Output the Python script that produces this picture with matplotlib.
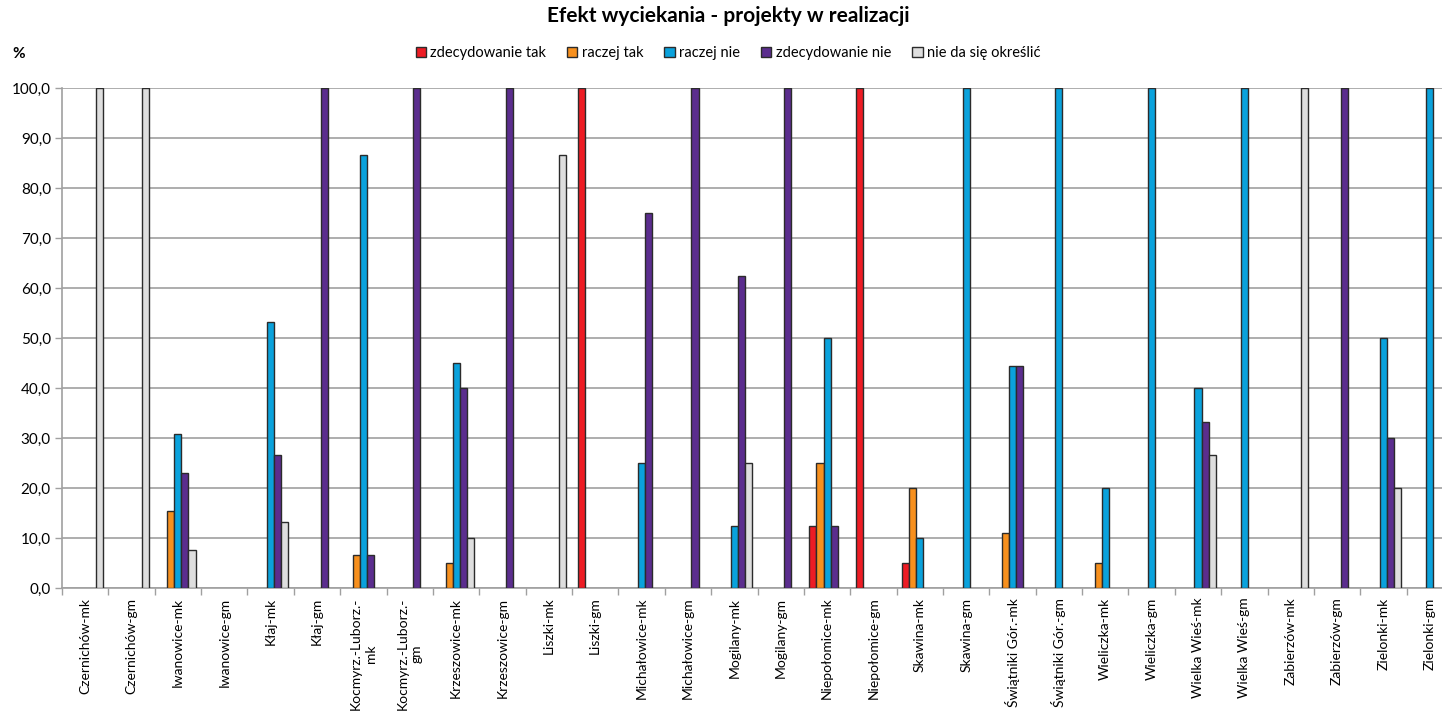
import matplotlib
matplotlib.use("Agg")
import matplotlib.pyplot as plt
import numpy as np
from matplotlib.ticker import FixedLocator, FuncFormatter

categories = [
    "Czernichów-mk", "Czernichów-gm", "Iwanowice-mk", "Iwanowice-gm",
    "Kłaj-mk", "Kłaj-gm", "Kocmyrz.-Luborz.-\nmk", "Kocmyrz.-Luborz.-\ngm",
    "Krzeszowice-mk", "Krzeszowice-gm", "Liszki-mk", "Liszki-gm",
    "Michałowice-mk", "Michałowice-gm", "Mogilany-mk", "Mogilany-gm",
    "Niepołomice-mk", "Niepołomice-gm", "Skawina-mk", "Skawina-gm",
    "Świątniki Gór.-mk", "Świątniki Gór.-gm", "Wieliczka-mk", "Wieliczka-gm",
    "Wielka Wieś-mk", "Wielka Wieś-gm", "Zabierzów-mk", "Zabierzów-gm",
    "Zielonki-mk", "Zielonki-gm",
]

series_names = ["zdecydowanie tak", "raczej tak", "raczej nie",
                "zdecydowanie nie", "nie da się określić"]

zdecydowanie_tak = [0, 0, 0, 0, 0, 0, 0, 0, 0, 0, 0, 100,
                    0, 0, 0, 0, 12.5, 100, 5, 0, 0, 0, 0, 0,
                    0, 0, 0, 0, 0, 0]
raczej_tak = [0, 0, 15.4, 0, 0, 0, 6.7, 0, 5, 0, 0, 0,
              0, 0, 0, 0, 25, 0, 20, 0, 11.1, 0, 5, 0,
              0, 0, 0, 0, 0, 0]
raczej_nie = [0, 0, 30.8, 0, 53.3, 0, 86.7, 0, 45, 0, 0, 0,
              25, 0, 12.5, 0, 50, 0, 10, 100, 44.4, 100, 20, 100,
              40, 100, 0, 0, 50, 100]
zdecydowanie_nie = [0, 0, 23.1, 0, 26.7, 100, 6.7, 100, 40, 100, 0, 0,
                    75, 100, 62.5, 100, 12.5, 0, 0, 0, 44.4, 0, 0, 0,
                    33.3, 0, 0, 100, 30, 0]
nie_da_sie = [100, 100, 7.7, 0, 13.3, 0, 0, 0, 10, 0, 86.7, 0,
              0, 0, 25, 0, 0, 0, 0, 0, 0, 0, 0, 0,
              26.7, 0, 100, 0, 20, 0]

series = [zdecydowanie_tak, raczej_tak, raczej_nie, zdecydowanie_nie, nie_da_sie]
colors = ["#ED1C24", "#F7901E", "#0AA2DC", "#5B2D8E", "#DEDEDE"]

plt.rcParams["font.family"] = ["Lato", "DejaVu Sans"]

W, H = 1442, 714
fig = plt.figure(figsize=(W / 100, H / 100), dpi=100)
left_px, right_px, top_px, bottom_px = 62, 1453, 88, 588
ax = fig.add_axes([left_px / W, 1 - bottom_px / H,
                   (right_px - left_px) / W, (bottom_px - top_px) / H])

x = np.arange(len(categories))
bw = 0.152
for i, (vals, name, col) in enumerate(zip(series, series_names, colors)):
    vals = np.array(vals, dtype=float)
    mask = vals > 0
    ax.bar(x[mask] + (i - 2) * bw, vals[mask], width=bw, color=col,
           edgecolor="#2B2B2B", linewidth=1.0, zorder=3, label=name)

ax.set_xlim(-0.5, len(categories) - 0.5)
ax.set_ylim(0, 100)
ax.yaxis.set_major_locator(FixedLocator(np.arange(0, 101, 10)))
ax.yaxis.set_major_formatter(FuncFormatter(lambda v, p: f"{v:.1f}".replace(".", ",")))
ax.grid(axis="y", color="#A0A0A0", linewidth=1.2, zorder=0)
ax.set_axisbelow(True)

ax.set_xticks(x)
ax.set_xticklabels(categories, rotation=90, fontsize=10, va="top",
                   ha="center", multialignment="center", linespacing=1.25)
ax.xaxis.set_minor_locator(FixedLocator(np.arange(-0.5, len(categories), 1)))
ax.tick_params(axis="x", which="major", length=0, pad=7)
ax.tick_params(axis="x", which="minor", length=5, color="#A0A0A0", width=1)
ax.tick_params(axis="y", length=5, color="#A0A0A0", width=1, labelsize=11, pad=3)

for s in ["top", "right"]:
    ax.spines[s].set_visible(False)
for s in ["left", "bottom"]:
    ax.spines[s].set_color("#A0A0A0")
    ax.spines[s].set_linewidth(1.2)

fig.text(0.505, 1 - 16 / H, "Efekt wyciekania - projekty w realizacji",
         ha="center", va="center", fontsize=15, fontweight="bold")
fig.text(12 / W, 1 - 54 / H, "%", ha="left", va="center", fontsize=11,
         fontweight="bold")

fig.legend(loc="center", bbox_to_anchor=(728 / W, 1 - 53 / H), ncol=5,
           frameon=False, fontsize=10.5, handlelength=0.7, handleheight=0.7,
           handletextpad=0.3, columnspacing=1.45)

fig.savefig("out.png", dpi=100)
